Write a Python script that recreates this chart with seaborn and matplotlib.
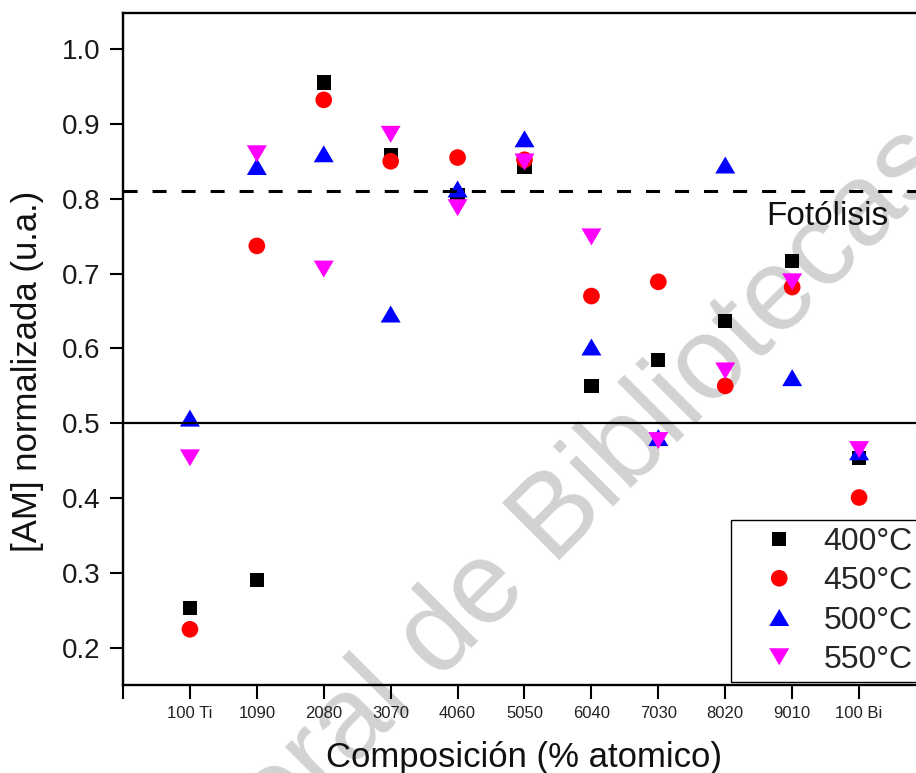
import numpy as np
import pandas as pd
import matplotlib
matplotlib.use("Agg")
import matplotlib.pyplot as plt
from matplotlib.ticker import FormatStrFormatter, FixedLocator
import seaborn as sns

# Composición de los fotocatalizadores (% atómico Bi/Ti)
composiciones = ['100 Ti', '1090', '2080', '3070', '4060', '5050',
                 '6040', '7030', '8020', '9010', '100 Bi']

# [AM] normalizada para cada temperatura de calcinación
am_400 = [0.253, 0.291, 0.955, 0.858, 0.805, 0.843, 0.550, 0.585, 0.637, 0.717, 0.454]
am_450 = [0.225, 0.737, 0.932, 0.850, 0.855, 0.852, 0.670, 0.689, 0.550, 0.682, 0.401]
am_500 = [0.507, 0.843, 0.860, 0.646, 0.813, 0.880, 0.602, 0.481, 0.845, 0.561, 0.462]
am_550 = [0.454, 0.860, 0.706, 0.886, 0.788, 0.849, 0.749, 0.477, 0.570, 0.689, 0.465]

temperaturas = ['400°C', '450°C', '500°C', '550°C']
series = [am_400, am_450, am_500, am_550]

nivel_fotolisis = 0.81
nivel_referencia = 0.5

# estilo de cada serie
colores = ['#000000', '#ff0000', '#0000ff', '#ff00ff']
tri_arriba = [(-1, -0.85), (1, -0.85), (0, 0.85), (-1, -0.85)]
tri_abajo = [(-1, 0.85), (1, 0.85), (0, -0.85), (-1, 0.85)]
marcadores = ['s', 'o', tri_arriba, tri_abajo]
tamanos = [106, 144, 207, 207]

sns.set_style('ticks')
plt.rcParams['font.family'] = ['Liberation Sans', 'DejaVu Sans']

fig = plt.figure(figsize=(9.16, 7.73), dpi=100)
fig.patch.set_facecolor('white')
ax = fig.add_axes([123 / 916, 1 - 685 / 773, 803 / 916, 672 / 773])
ax.set_facecolor('none')

posiciones = np.arange(len(composiciones))
for temp, valores, color, marca, tam in zip(temperaturas, series, colores, marcadores, tamanos):
    df = pd.DataFrame({'pos': posiciones, 'am': valores})
    sns.scatterplot(data=df, x='pos', y='am', ax=ax, color=color, marker=marca,
                    s=tam, edgecolor='none', linewidth=0, label=temp, zorder=1)

ax.axhline(nivel_fotolisis, color='black', lw=2.2, ls=(0, (4.6, 4.9)), zorder=2)
ax.axhline(nivel_referencia, color='black', lw=1.6, zorder=2)
ax.text(8.61, 0.765, 'Fotólisis', fontsize=24, ha='left', va='baseline', color='#111111')

ax.set_xlim(-1, 11)
ax.set_ylim(0.1506, 1.048)
ax.set_xticks(posiciones)
ax.set_xticklabels(composiciones)
ax.xaxis.set_minor_locator(FixedLocator([-1, 11]))
ax.set_yticks(np.arange(0.2, 1.01, 0.1))
ax.yaxis.set_major_formatter(FormatStrFormatter('%.1f'))

ax.tick_params(axis='y', which='major', direction='out', length=9.4, width=1.5,
               pad=7, labelsize=20, colors='black', labelcolor='#1a1a1a')
ax.tick_params(axis='x', which='both', direction='out', length=10, width=1.5,
               pad=5, labelsize=12, colors='black', labelcolor='#222222')

for lado in ['left', 'right', 'top', 'bottom']:
    ax.spines[lado].set_visible(True)
    ax.spines[lado].set_color('black')
    ax.spines[lado].set_linewidth(1.7)

ax.set_xlabel('Composición (% atomico)', fontsize=25, color='#111111')
ax.set_ylabel('[AM] normalizada (u.a.)', fontsize=25, color='#111111')
ax.xaxis.set_label_coords(0.5, -0.083)
ax.yaxis.set_label_coords(-0.098, 0.467)

ax.legend(loc='lower left', bbox_to_anchor=((731 - 123) / 803, 0.0045),
          borderaxespad=0, frameon=True, fancybox=False, edgecolor='black',
          framealpha=1, fontsize=23, handlelength=2.58, handletextpad=0.1,
          borderpad=0.22, labelspacing=0.29, scatteryoffsets=[0.5])
ax.get_legend().get_frame().set_linewidth(1.0)

# marca de agua institucional
fig.text(-245 / 916, 1 - 1364 / 773, 'Dirección General de Bibliotecas UAQ',
         fontsize=84, color='#d2d2d2', rotation=45, rotation_mode='anchor',
         ha='left', va='baseline', zorder=-1)

fig.savefig('out.png', dpi=100, facecolor='white')
